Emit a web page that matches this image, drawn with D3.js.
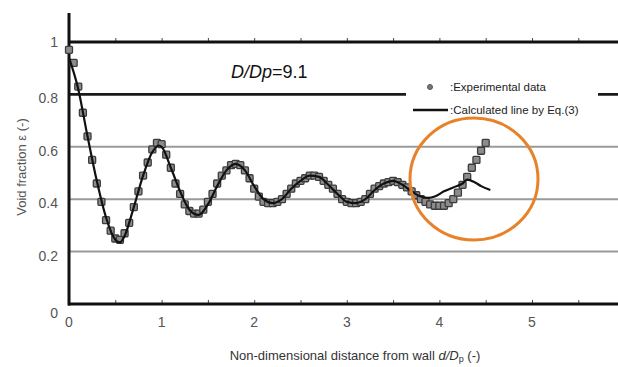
<!DOCTYPE html>
<html><head><meta charset="utf-8">
<script src="https://cdn.jsdelivr.net/npm/d3@7/dist/d3.min.js"></script>
<style>body{margin:0;background:#fff}svg{display:block}</style>
</head><body>
<script>
// ---- data ----
const expX = [0,0.05,0.1,0.15,0.2,0.25,0.3,0.35,0.4,0.45,0.5,0.55,0.6,0.65,0.7,0.75,0.8,0.85,0.9,0.95,1.0,1.05,1.1,1.15,1.2,1.25,1.3,1.35,1.4,1.45,1.5,1.55,1.6,1.65,1.7,1.75,1.8,1.85,1.9,1.95,2.0,2.05,2.1,2.15,2.2,2.25,2.3,2.35,2.4,2.45,2.5,2.55,2.6,2.65,2.7,2.75,2.8,2.85,2.9,2.95,3.0,3.05,3.1,3.15,3.2,3.25,3.3,3.35,3.4,3.45,3.5,3.55,3.6,3.65,3.7,3.75,3.8,3.85,3.9,3.95,4.0,4.05,4.1,4.15,4.2,4.25,4.3,4.35,4.4,4.45,4.5];
const expY = [0.97,0.92,0.83,0.73,0.64,0.55,0.46,0.39,0.32,0.28,0.25,0.245,0.27,0.31,0.37,0.43,0.49,0.54,0.59,0.615,0.61,0.57,0.52,0.46,0.42,0.38,0.355,0.345,0.345,0.36,0.39,0.42,0.46,0.49,0.51,0.53,0.535,0.53,0.51,0.48,0.44,0.41,0.39,0.385,0.385,0.39,0.40,0.42,0.44,0.46,0.47,0.48,0.49,0.49,0.485,0.47,0.455,0.44,0.42,0.40,0.39,0.385,0.385,0.39,0.40,0.42,0.44,0.45,0.46,0.465,0.47,0.465,0.455,0.445,0.43,0.415,0.40,0.39,0.38,0.375,0.375,0.375,0.385,0.40,0.425,0.455,0.485,0.52,0.55,0.585,0.615];
const calcX = [0,0.1,0.2,0.3,0.4,0.5,0.55,0.6,0.7,0.8,0.9,0.97,1.0,1.1,1.2,1.3,1.4,1.5,1.6,1.7,1.8,1.9,2.0,2.1,2.2,2.3,2.4,2.5,2.6,2.7,2.8,2.9,3.0,3.1,3.2,3.3,3.4,3.5,3.6,3.7,3.8,3.88,3.95,4.05,4.15,4.25,4.3,4.38,4.45,4.55];
const calcY = [0.94,0.82,0.64,0.47,0.33,0.245,0.235,0.26,0.37,0.49,0.58,0.605,0.60,0.52,0.43,0.36,0.34,0.38,0.45,0.51,0.535,0.51,0.45,0.40,0.385,0.40,0.44,0.47,0.49,0.485,0.455,0.42,0.39,0.385,0.40,0.435,0.46,0.47,0.455,0.43,0.41,0.405,0.41,0.43,0.445,0.46,0.475,0.465,0.45,0.435];
const xTicks = [0,1,2,3,4,5,6];
const yTicks = [0,0.2,0.4,0.6,0.8,1];
const titleMain = "D/Dp";
const titleVal = "=9.1";
const legendLabels = [":Experimental data", ":Calculated line by Eq.(3)"];

// ---- chart ----
const W = 618, H = 367;
const svg = d3.select("body").append("svg").attr("width", W).attr("height", H);
const x = d3.scaleLinear().domain([0, 6]).range([69, 624.6]);
const y = d3.scaleLinear().domain([0, 1]).range([304, 42]);
const FONT = "Liberation Sans, Arial, sans-serif";

// gridlines
const grid = svg.append("g");
[0.2,0.4,0.6].forEach(v => grid.append("line")
  .attr("x1", x(0)).attr("x2", W).attr("y1", y(v)).attr("y2", y(v))
  .attr("stroke", "#9a9a9a").attr("stroke-width", 2));
[0.8].forEach(v => grid.append("line")
  .attr("x1", x(0)).attr("x2", W).attr("y1", y(v)).attr("y2", y(v))
  .attr("stroke", "#1a1a1a").attr("stroke-width", 2.8));

// top line (y=1) with ticks
const topAxis = d3.axisTop(x).tickValues(d3.range(0, 6.01, 0.5)).tickSize(4).tickFormat("");
const gTop = svg.append("g").attr("transform", `translate(0,${y(1)})`).call(topAxis);
gTop.select(".domain").remove();
gTop.selectAll(".tick line").attr("stroke", "#444").attr("stroke-width", 1);
svg.append("line").attr("x1", x(0)).attr("x2", W).attr("y1", y(1)).attr("y2", y(1))
  .attr("stroke", "#111").attr("stroke-width", 2.8);

// bottom axis
const botAxis = d3.axisBottom(x).tickValues(d3.range(0, 6.01, 0.5)).tickSize(-4).tickFormat("");
const gBot = svg.append("g").attr("transform", `translate(0,${y(0)})`).call(botAxis);
gBot.select(".domain").remove();
gBot.selectAll(".tick line").attr("stroke", "#444").attr("stroke-width", 1);
svg.append("line").attr("x1", x(0) - 1).attr("x2", W).attr("y1", y(0)).attr("y2", y(0))
  .attr("stroke", "#111").attr("stroke-width", 3);

// x tick labels
svg.append("g").selectAll("text").data(xTicks).join("text")
  .attr("x", d => x(d)).attr("y", 327).attr("text-anchor", "middle")
  .attr("font-family", FONT).attr("font-size", 14)
  .attr("fill", "#555").text(d => d);

// y axis line
svg.append("line").attr("x1", x(0)).attr("x2", x(0)).attr("y1", 13).attr("y2", y(0) + 1.5)
  .attr("stroke", "#111").attr("stroke-width", 3);

// y tick labels
svg.append("g").selectAll("text").data(yTicks).join("text")
  .attr("x", 58).attr("y", d => d === 0 ? 318 : (d === 1 ? y(d) + 5 : y(d) + 9))
  .attr("text-anchor", "end")
  .attr("font-family", FONT).attr("font-size", 14)
  .attr("fill", "#555").text(d => d);

// axis titles
svg.append("text").attr("transform", "translate(26,167) rotate(-90)")
  .attr("text-anchor", "middle").attr("font-family", FONT)
  .attr("font-size", 13).attr("fill", "#555").text("Void fraction ε (-)");
const xt = svg.append("text").attr("x", 355).attr("y", 360).attr("text-anchor", "middle")
  .attr("font-family", FONT).attr("font-size", 13).attr("fill", "#333");
xt.append("tspan").text("Non-dimensional distance from wall ");
xt.append("tspan").attr("font-style", "italic").text("d/D");
xt.append("tspan").attr("font-size", 9).attr("dy", 2).text("p");
xt.append("tspan").attr("dy", -2).text(" (-)");

// experimental squares
const s = 7;
svg.append("g").selectAll("rect").data(expX.map((d, i) => [d, expY[i]])).join("rect")
  .attr("x", d => x(d[0]) - s / 2).attr("y", d => y(d[1]) - s / 2)
  .attr("width", s).attr("height", s).attr("rx", 1)
  .attr("fill", "#8c8c8c").attr("stroke", "#3c3c3c").attr("stroke-width", 1.3);

// calculated line
const line = d3.line().x(d => x(d[0])).y(d => y(d[1])).curve(d3.curveMonotoneX);
svg.append("path").datum(calcX.map((d, i) => [d, calcY[i]])).attr("d", line)
  .attr("fill", "none").attr("stroke", "#111").attr("stroke-width", 2.2);

// title
const tt = svg.append("text").attr("x", 231).attr("y", 78)
  .attr("font-family", FONT).attr("font-size", 18).attr("fill", "#111");
tt.append("tspan").attr("font-style", "italic").text(titleMain);
tt.append("tspan").text(titleVal);

// legend
svg.append("rect").attr("x", 406).attr("y", 78).attr("width", 192).attr("height", 40).attr("fill", "#fff");
svg.append("circle").attr("cx", 430).attr("cy", 87).attr("r", 2.5).attr("fill", "#777").attr("stroke", "#555");
svg.append("line").attr("x1", 413).attr("x2", 448).attr("y1", 110).attr("y2", 110)
  .attr("stroke", "#111").attr("stroke-width", 2.5);
svg.append("g").selectAll("text").data(legendLabels).join("text")
  .attr("x", 450).attr("y", (d, i) => i === 0 ? 91 : 114)
  .attr("font-family", FONT).attr("font-size", 11.5)
  .attr("fill", "#222").text(d => d);

// orange highlight circle
svg.append("ellipse").attr("cx", 474).attr("cy", 179).attr("rx", 64).attr("ry", 61)
  .attr("fill", "none").attr("stroke", "#E8822A").attr("stroke-width", 3);
</script>
</body></html>
